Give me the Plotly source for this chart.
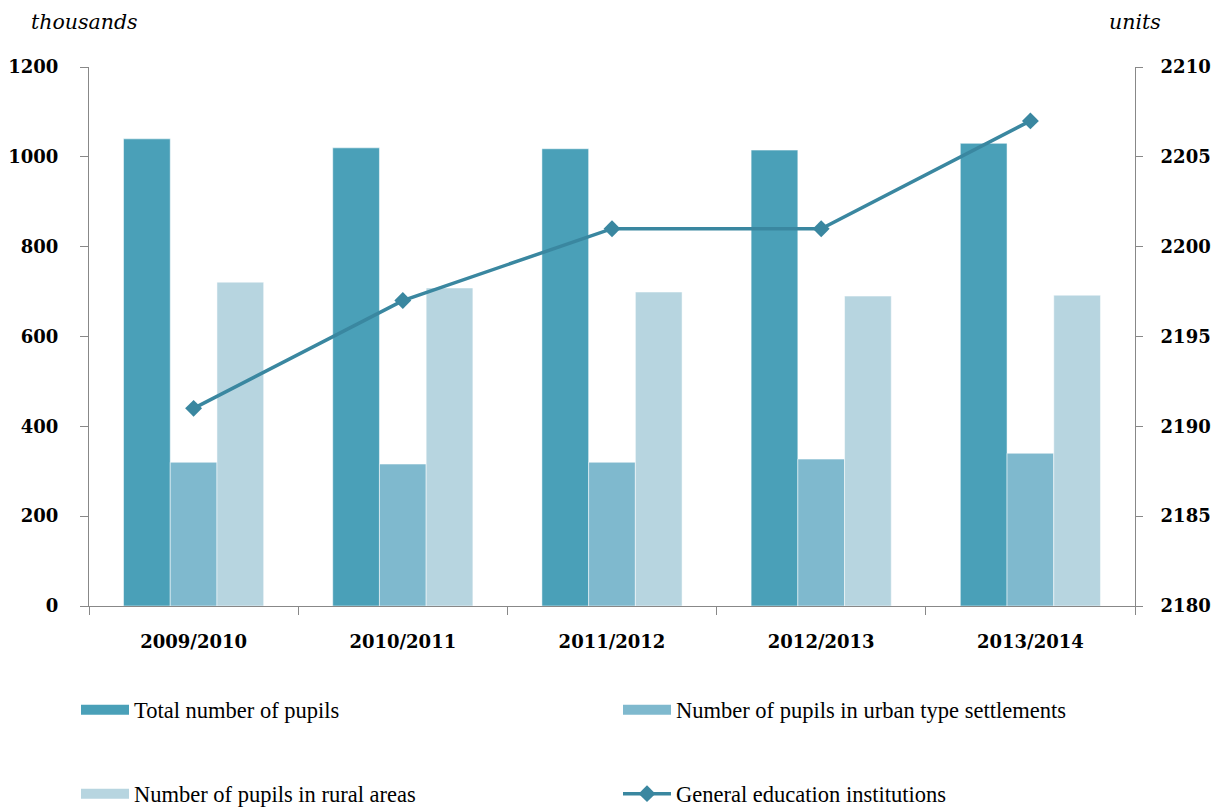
import plotly.graph_objects as go

years = ["2009/2010", "2010/2011", "2011/2012", "2012/2013", "2013/2014"]
total_pupils = [1040, 1020, 1018, 1015, 1030]
urban_pupils = [320, 316, 320, 327, 340]
rural_pupils = [721, 708, 699, 690, 692]
institutions = [2191, 2197, 2201, 2201, 2207]

c_total = "rgb(74,160,184)"
c_urban = "rgb(127,185,206)"
c_rural = "rgb(183,213,224)"
c_line = "rgb(58,135,160)"

tick_font = dict(family="DejaVu Serif", size=18, color="#000", weight="bold")
leg_font = dict(family="Liberation Serif", size=22.5, color="#000")

fig = go.Figure()
bar_line = dict(color="rgba(255,255,255,0.5)", width=1)
fig.add_trace(go.Bar(x=years, y=total_pupils, name="Total number of pupils",
                     marker=dict(color=c_total, line=bar_line), showlegend=False))
fig.add_trace(go.Bar(x=years, y=urban_pupils, name="Number of pupils in urban type settlements",
                     marker=dict(color=c_urban, line=bar_line), showlegend=False))
fig.add_trace(go.Bar(x=years, y=rural_pupils, name="Number of pupils in rural areas",
                     marker=dict(color=c_rural, line=bar_line), showlegend=False))
fig.add_trace(go.Scatter(x=years, y=institutions, name="General education institutions",
                         yaxis="y2", mode="lines+markers",
                         line=dict(color=c_line, width=3.5),
                         marker=dict(symbol="diamond", size=13, color=c_line),
                         legend="legend4"))

# legend-only entries with wide rectangular keys
for name, col, lg in [("Total number of pupils", c_total, "legend"),
                      ("Number of pupils in urban type settlements", c_urban, "legend2"),
                      ("Number of pupils in rural areas", c_rural, "legend3")]:
    fig.add_trace(go.Scatter(x=[None], y=[None], mode="lines", name=name,
                             line=dict(color=col, width=11), legend=lg))

OFF = 8  # page body margin
FW, FH = 1219, 840
H = 539.0
W = 1046.0
def py(pix):
    return (606 - pix) / H
def px(pix):
    return (pix - 89) / W

leg_common = dict(font=leg_font, itemwidth=48, bgcolor="rgba(0,0,0,0)",
                  xanchor="left", yanchor="middle", tracegroupgap=0)
fig.update_layout(
    legend=dict(x=px(76), y=py(710), **leg_common),
    legend2=dict(x=px(618), y=py(710), **leg_common),
    legend3=dict(x=px(76), y=py(794), **leg_common),
    legend4=dict(x=px(618), y=py(794), **leg_common),
)

fig.update_layout(
    width=FW, height=FH,
    margin=dict(l=89 - OFF, r=FW + OFF - 1135, t=67 - OFF, b=FH + OFF - 606),
    paper_bgcolor="white", plot_bgcolor="white",
    barmode="group", bargap=0.33, bargroupgap=0,
    xaxis=dict(type="category", tickson="boundaries", ticks="outside", ticklen=8,
               tickcolor="#888", showline=True, linecolor="#888", linewidth=1,
               showgrid=False, tickfont=tick_font, ticklabelstandoff=19,
               tickangle=0, automargin=False),
    yaxis=dict(range=[0, 1200], dtick=200, ticks="outside", ticklen=8,
               tickcolor="#888", showline=True, linecolor="#888", linewidth=1,
               showgrid=False, zeroline=False, tickfont=tick_font,
               ticklabelstandoff=18, automargin=False),
    yaxis2=dict(range=[2180, 2210], dtick=5, overlaying="y", side="right",
                ticks="outside", ticklen=7, tickcolor="#888", showline=True,
                linecolor="#888", linewidth=1, showgrid=False, zeroline=False,
                tickfont=tick_font, ticklabelstandoff=14, automargin=False),
    annotations=[
        dict(text="thousands", xref="paper", yref="paper", x=px(30), y=py(8.5),
             xanchor="left", yanchor="top", showarrow=False, borderpad=0,
             font=dict(family="DejaVu Serif", size=20.5, style="italic", color="#000")),
        dict(text="units", xref="paper", yref="paper", x=px(1162), y=py(8.5),
             xanchor="right", yanchor="top", showarrow=False, borderpad=0,
             font=dict(family="DejaVu Serif", size=20.5, style="italic", color="#000")),
    ],
)

fig.write_html("out.html")
